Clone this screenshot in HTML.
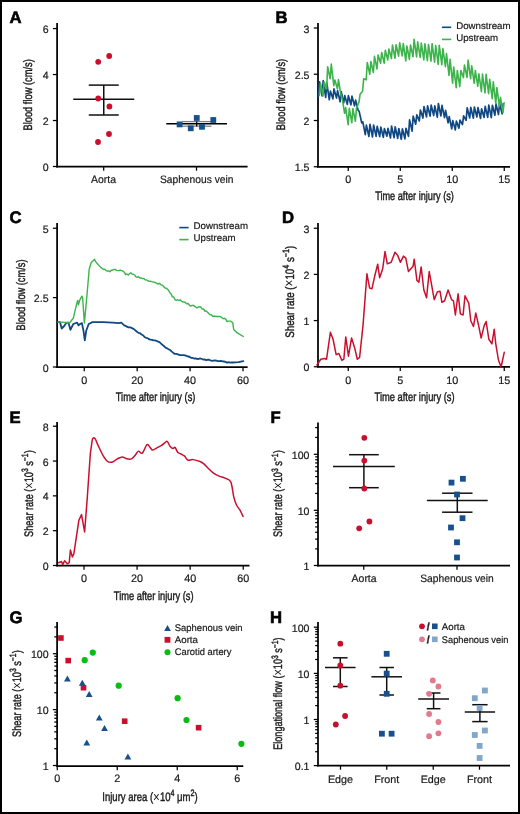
<!DOCTYPE html>
<html><head><meta charset="utf-8"><style>
html,body{margin:0;padding:0;background:#fff;}
body{width:520px;height:814px;overflow:hidden;position:relative;}
svg{position:absolute;left:0;top:0;display:block;will-change:transform;}
text{font-family:"Liberation Sans", sans-serif;text-rendering:geometricPrecision;}

</style></head><body>
<svg width="520" height="814" viewBox="0 0 520 814">
<rect x="0" y="0" width="520" height="814" fill="#fff"/>
<text x="9.5" y="23" font-size="16.7" text-anchor="start" stroke="#000" stroke-width="0.6" font-weight="bold" fill="#000">A</text>
<line x1="57.1" y1="22.9" x2="57.1" y2="167.38" stroke="#000" stroke-width="1.75"/>
<line x1="52.9" y1="166.5" x2="57.1" y2="166.5" stroke="#000" stroke-width="1.25"/>
<text x="48.6" y="171" font-size="10.6" text-anchor="end" stroke="#1a1a1a" stroke-width="0.2" fill="#1a1a1a">0</text>
<line x1="52.9" y1="120.52" x2="57.1" y2="120.52" stroke="#000" stroke-width="1.25"/>
<text x="48.6" y="125.02" font-size="10.6" text-anchor="end" stroke="#1a1a1a" stroke-width="0.2" fill="#1a1a1a">2</text>
<line x1="52.9" y1="74.54" x2="57.1" y2="74.54" stroke="#000" stroke-width="1.25"/>
<text x="48.6" y="79.04" font-size="10.6" text-anchor="end" stroke="#1a1a1a" stroke-width="0.2" fill="#1a1a1a">4</text>
<line x1="52.9" y1="28.56" x2="57.1" y2="28.56" stroke="#000" stroke-width="1.25"/>
<text x="48.6" y="33.06" font-size="10.6" text-anchor="end" stroke="#1a1a1a" stroke-width="0.2" fill="#1a1a1a">6</text>
<line x1="56.23" y1="166.5" x2="247.6" y2="166.5" stroke="#000" stroke-width="1.75"/>
<line x1="103.7" y1="166.5" x2="103.7" y2="170.7" stroke="#000" stroke-width="1.25"/>
<line x1="196.5" y1="166.5" x2="196.5" y2="170.7" stroke="#000" stroke-width="1.25"/>
<text x="103.5" y="183.1" font-size="10.75" text-anchor="middle" stroke="#1a1a1a" stroke-width="0.2" textLength="25" lengthAdjust="spacingAndGlyphs" fill="#1a1a1a">Aorta</text>
<text x="196.7" y="183.1" font-size="10.75" text-anchor="middle" stroke="#1a1a1a" stroke-width="0.2" textLength="73.5" lengthAdjust="spacingAndGlyphs" fill="#1a1a1a">Saphenous vein</text>
<text transform="translate(31.8,94.85) rotate(-90)" x="0" y="0" font-size="12.3" text-anchor="middle" stroke="#1a1a1a" stroke-width="0.42" textLength="71.3" lengthAdjust="spacingAndGlyphs" fill="#1a1a1a">Blood flow (cm/s)</text>
<line x1="73.25" y1="99.3" x2="134.25" y2="99.3" stroke="#111" stroke-width="1.5"/>
<line x1="103.75" y1="85.1" x2="103.75" y2="115" stroke="#111" stroke-width="1.5"/>
<line x1="88.75" y1="85.1" x2="118.75" y2="85.1" stroke="#111" stroke-width="1.5"/>
<line x1="88.75" y1="115" x2="118.75" y2="115" stroke="#111" stroke-width="1.5"/>
<circle cx="98.2" cy="61.8" r="2.9" fill="#c8102e"/>
<circle cx="109.2" cy="56" r="2.9" fill="#c8102e"/>
<circle cx="98.2" cy="98.5" r="2.9" fill="#c8102e"/>
<circle cx="109.4" cy="106.5" r="2.9" fill="#c8102e"/>
<circle cx="109" cy="134" r="2.9" fill="#c8102e"/>
<circle cx="98" cy="142" r="2.9" fill="#c8102e"/>
<line x1="182" y1="121.6" x2="211.5" y2="121.6" stroke="#808080" stroke-width="1.3"/>
<line x1="182" y1="126.2" x2="211.5" y2="126.2" stroke="#808080" stroke-width="1.3"/>
<line x1="166.3" y1="123.8" x2="227" y2="123.8" stroke="#000" stroke-width="1.4"/>
<line x1="196.7" y1="121.6" x2="196.7" y2="126.2" stroke="#000" stroke-width="1.3"/>
<rect x="176.7" y="121.5" width="5.8" height="5.8" fill="#17508c"/>
<rect x="187.85" y="125.4" width="5.8" height="5.8" fill="#17508c"/>
<rect x="193.85" y="115.1" width="5.8" height="5.8" fill="#17508c"/>
<rect x="199.1" y="123.9" width="5.8" height="5.8" fill="#17508c"/>
<rect x="210.4" y="117.1" width="5.8" height="5.8" fill="#17508c"/>
<text x="275.6" y="23" font-size="16.7" text-anchor="start" stroke="#000" stroke-width="0.6" font-weight="bold" fill="#000">B</text>
<line x1="318" y1="22.9" x2="318" y2="167.62" stroke="#000" stroke-width="1.75"/>
<line x1="313.8" y1="166.75" x2="318" y2="166.75" stroke="#000" stroke-width="1.25"/>
<text x="309.5" y="171.25" font-size="10.6" text-anchor="end" stroke="#1a1a1a" stroke-width="0.2" fill="#1a1a1a">1.5</text>
<line x1="313.8" y1="120.5" x2="318" y2="120.5" stroke="#000" stroke-width="1.25"/>
<text x="309.5" y="125" font-size="10.6" text-anchor="end" stroke="#1a1a1a" stroke-width="0.2" fill="#1a1a1a">2</text>
<line x1="313.8" y1="74.25" x2="318" y2="74.25" stroke="#000" stroke-width="1.25"/>
<text x="309.5" y="78.75" font-size="10.6" text-anchor="end" stroke="#1a1a1a" stroke-width="0.2" fill="#1a1a1a">2.5</text>
<line x1="313.8" y1="28" x2="318" y2="28" stroke="#000" stroke-width="1.25"/>
<text x="309.5" y="32.5" font-size="10.6" text-anchor="end" stroke="#1a1a1a" stroke-width="0.2" fill="#1a1a1a">3</text>
<line x1="317.12" y1="166.75" x2="510" y2="166.75" stroke="#000" stroke-width="1.75"/>
<line x1="348.25" y1="166.75" x2="348.25" y2="170.95" stroke="#000" stroke-width="1.25"/>
<text x="348.25" y="182.95" font-size="10.8" text-anchor="middle" stroke="#1a1a1a" stroke-width="0.2" fill="#1a1a1a">0</text>
<line x1="400.25" y1="166.75" x2="400.25" y2="170.95" stroke="#000" stroke-width="1.25"/>
<text x="400.25" y="182.95" font-size="10.8" text-anchor="middle" stroke="#1a1a1a" stroke-width="0.2" fill="#1a1a1a">5</text>
<line x1="452.25" y1="166.75" x2="452.25" y2="170.95" stroke="#000" stroke-width="1.25"/>
<text x="452.25" y="182.95" font-size="10.8" text-anchor="middle" stroke="#1a1a1a" stroke-width="0.2" fill="#1a1a1a">10</text>
<line x1="504.25" y1="166.75" x2="504.25" y2="170.95" stroke="#000" stroke-width="1.25"/>
<text x="504.25" y="182.95" font-size="10.8" text-anchor="middle" stroke="#1a1a1a" stroke-width="0.2" fill="#1a1a1a">15</text>
<text x="414.5" y="200.1" font-size="12.3" text-anchor="middle" stroke="#1a1a1a" stroke-width="0.42" textLength="78.7" lengthAdjust="spacingAndGlyphs" fill="#1a1a1a">Time after injury (s)</text>
<text transform="translate(285.1,94.5) rotate(-90)" x="0" y="0" font-size="12.3" text-anchor="middle" stroke="#1a1a1a" stroke-width="0.42" textLength="71.3" lengthAdjust="spacingAndGlyphs" fill="#1a1a1a">Blood flow (cm/s)</text>
<line x1="441.9" y1="27.3" x2="451.2" y2="27.3" stroke="#0f4883" stroke-width="1.6"/>
<text x="456.2" y="29.35" font-size="9.7" text-anchor="start" stroke="#1a1a1a" stroke-width="0.2" fill="#1a1a1a">Downstream</text>
<line x1="441.9" y1="39.4" x2="451.2" y2="39.4" stroke="#3cb44b" stroke-width="1.6"/>
<text x="456.2" y="40.95" font-size="9.7" text-anchor="start" stroke="#1a1a1a" stroke-width="0.2" fill="#1a1a1a">Upstream</text>
<polyline points="318.5,96.29 319.58,81.88 322.1,95.85 323.18,80.69 325.7,97.36 326.78,82.93 329.3,99.76 330.38,91.04 332.9,98.84 333.98,88.93 336.5,98.05 337.58,90.66 340.1,101.79 341.18,91.68 343.7,102.77 344.78,95.66 347.3,104.38 348.38,95.64 350.9,104.78 351.98,96.12 354.5,105.9 355.58,100.07 358.1,110.19 359.18,111.42 361.7,122.83 362.78,121.83 365.3,134.58 366.38,125.15 368.9,136.51 369.98,124.36 372.5,136.99 373.58,124.98 376.1,136.44 377.18,126.25 379.7,136.58 380.78,127.07 383.3,137.29 384.38,128.55 386.9,136.14 387.98,128.37 390.5,137.96 391.58,126.14 394.1,137.74 395.18,126.78 397.7,138.44 398.78,128.53 401.3,139.18 402.38,128.82 404.9,138.82 405.98,128.26 408.5,136.28 409.58,119.86 412.1,131.14 413.18,116.14 415.7,124.17 416.78,114.81 419.3,120.92 420.38,109.98 422.9,118.05 423.98,106.54 426.5,116.83 427.58,105.87 430.1,116.16 431.18,105.14 433.7,115.51 434.78,105.87 437.3,117.08 438.38,103.54 440.9,115.99 441.98,105.39 444.5,117.7 445.58,110.32 448.1,122.77 449.18,116.52 451.7,128.83 452.78,120.61 455.3,129.89 456.38,120.99 458.9,128.25 459.98,120.06 462.5,124.51 463.58,115.79 466.1,120.34 467.18,107.8 469.7,117.96 470.78,107.4 473.3,118.07 474.38,107.02 476.9,116.96 477.98,107.51 480.5,118.37 481.58,108.76 484.1,117.4 485.18,106.42 487.7,117.39 488.78,105.19 491.3,117.65 492.38,105.3 494.9,115.25 495.98,103.98 498.5,114.53 499.58,103.23 502.1,113.83 503.18,103.8" fill="none" stroke="#0f4883" stroke-width="1.7" stroke-linejoin="round" stroke-linecap="round"/>
<polyline points="319.4,95.13 320.48,83.45 323,95.92 324.08,81.87 326.6,89.03 327.68,66.81 330.2,78.81 331.28,64.17 333.8,85.68 334.88,80.05 337.4,88.83 338.48,79.66 341,95.64 342.08,97.92 344.6,113.26 345.68,107.65 348.2,124.74 349.28,108.34 351.8,122.71 352.88,108.58 355.4,121.29 356.48,108.13 359,102.16 360.08,94.23 362.6,91.22 363.68,78.81 366.2,79.82 367.28,62.52 369.8,74.22 370.88,61.46 373.4,72.57 374.48,56.33 377,68.97 378.08,55.09 380.6,63.29 381.68,52.51 384.2,63.17 385.28,50.29 387.8,59.97 388.88,49.06 391.4,58.41 392.48,45.17 395,58.25 396.08,44.72 398.6,56.12 399.68,42.76 402.2,55.94 403.28,43.44 405.8,60.89 406.88,46 409.4,59.41 410.48,45.02 413,56.71 414.08,39.24 416.6,56.88 417.68,41.84 420.2,57.48 421.28,43.09 423.8,59.94 424.88,43.71 427.4,60.64 428.48,44.47 431,61.25 432.08,43.7 434.6,62.22 435.68,45.46 438.2,64.39 439.28,45.33 441.8,64.68 442.88,48.51 445.4,66.66 446.48,53.48 449,75.38 450.08,59.27 452.6,83.1 453.68,66.96 456.2,87.64 457.28,70.49 459.8,86.57 460.88,70.45 463.4,77.59 464.48,65.08 467,77.43 468.08,60.06 470.6,78.7 471.68,65.71 474.2,83.27 475.28,70.47 477.8,86.29 478.88,73.92 481.4,91.72 482.48,74.12 485,92.89 486.08,74.18 488.6,93.68 489.68,79.21 492.2,98.74 493.28,81.68 495.8,103.6 496.88,87.49 499.4,106.43 500.48,97.42 503,112.76 504.08,102.74" fill="none" stroke="#3cb44b" stroke-width="1.6" stroke-linejoin="round" stroke-linecap="round"/>
<text x="9.4" y="222.9" font-size="16.7" text-anchor="start" stroke="#000" stroke-width="0.6" font-weight="bold" fill="#000">C</text>
<line x1="57.1" y1="223" x2="57.1" y2="367.88" stroke="#000" stroke-width="1.75"/>
<line x1="52.9" y1="367" x2="57.1" y2="367" stroke="#000" stroke-width="1.25"/>
<text x="48.6" y="371.5" font-size="10.6" text-anchor="end" stroke="#1a1a1a" stroke-width="0.2" fill="#1a1a1a">0</text>
<line x1="52.9" y1="297.62" x2="57.1" y2="297.62" stroke="#000" stroke-width="1.25"/>
<text x="48.6" y="302.12" font-size="10.6" text-anchor="end" stroke="#1a1a1a" stroke-width="0.2" fill="#1a1a1a">2.5</text>
<line x1="52.9" y1="228.25" x2="57.1" y2="228.25" stroke="#000" stroke-width="1.25"/>
<text x="48.6" y="232.75" font-size="10.6" text-anchor="end" stroke="#1a1a1a" stroke-width="0.2" fill="#1a1a1a">5</text>
<line x1="56.23" y1="367" x2="247.6" y2="367" stroke="#000" stroke-width="1.75"/>
<line x1="84.25" y1="367" x2="84.25" y2="371.2" stroke="#000" stroke-width="1.25"/>
<text x="84.25" y="384" font-size="10.8" text-anchor="middle" stroke="#1a1a1a" stroke-width="0.2" fill="#1a1a1a">0</text>
<line x1="137.17" y1="367" x2="137.17" y2="371.2" stroke="#000" stroke-width="1.25"/>
<text x="137.17" y="384" font-size="10.8" text-anchor="middle" stroke="#1a1a1a" stroke-width="0.2" fill="#1a1a1a">20</text>
<line x1="190.08" y1="367" x2="190.08" y2="371.2" stroke="#000" stroke-width="1.25"/>
<text x="190.08" y="384" font-size="10.8" text-anchor="middle" stroke="#1a1a1a" stroke-width="0.2" fill="#1a1a1a">40</text>
<line x1="243" y1="367" x2="243" y2="371.2" stroke="#000" stroke-width="1.25"/>
<text x="243" y="384" font-size="10.8" text-anchor="middle" stroke="#1a1a1a" stroke-width="0.2" fill="#1a1a1a">60</text>
<text x="155.6" y="400.8" font-size="12.3" text-anchor="middle" stroke="#1a1a1a" stroke-width="0.42" textLength="79.6" lengthAdjust="spacingAndGlyphs" fill="#1a1a1a">Time after injury (s)</text>
<text transform="translate(25.3,295) rotate(-90)" x="0" y="0" font-size="12.3" text-anchor="middle" stroke="#1a1a1a" stroke-width="0.42" textLength="71" lengthAdjust="spacingAndGlyphs" fill="#1a1a1a">Blood flow (cm/s)</text>
<line x1="179.3" y1="227.6" x2="188.6" y2="227.6" stroke="#0f4883" stroke-width="1.6"/>
<text x="193.6" y="229.35" font-size="9.7" text-anchor="start" stroke="#1a1a1a" stroke-width="0.2" fill="#1a1a1a">Downstream</text>
<line x1="179.3" y1="239.6" x2="188.6" y2="239.6" stroke="#3cb44b" stroke-width="1.6"/>
<text x="193.6" y="240.95" font-size="9.7" text-anchor="start" stroke="#1a1a1a" stroke-width="0.2" fill="#1a1a1a">Upstream</text>
<polyline points="57.9,322.1 60,322.1 61.7,328.5 64.2,326 66.5,322.7 68.5,322.7 70.4,329.8 73.3,324 77.1,322.7 78.5,325.4 80,324 81.9,323.1 83.5,330.8 84.8,340.4 86.2,330.8 88.7,324 92.5,322.1 103.1,322.1 112.7,322.7 118.5,323.1 121.3,322.7 124.2,325.4 125,325.67 126.5,326.36 128,327.28 129.5,327.25 131,327.68 132.5,328.42 134,329.18 135.5,330.59 137,331.72 138.5,332.86 140,333.23 141.5,334.42 143,335.24 144.5,336.9 146,337.8 147.5,338.12 149,339.25 150.5,339.6 152,339.88 153.5,340.39 155,340.46 156.5,340.79 158,341.71 159.5,342.18 161,343.57 162.5,344.93 164,346.05 165.5,347.71 167,348.28 168.5,349.23 170,349.93 171.5,351.39 173,352.6 174.5,353.76 176,353.92 177.5,354.11 179,354.96 180.5,355.12 182,355.13 183.5,355.17 185,355.35 186.5,355.87 188,356.51 189.5,356.76 191,357.75 192.5,357.79 194,358.56 195.5,358.31 197,358.95 198.5,358.98 200,358.35 201.5,358.75 203,359.58 204.5,359.39 206,360.06 207.5,359.77 209,359.71 210.5,360.45 212,360.82 213.5,360.59 215,360.43 216.5,360.65 218,361.22 219.5,361.1 221,360.85 222.5,361.3 224,361.5 225.5,361.79 227,362.77 228.5,362.21 230,362.55 231.5,362.45 232.7,362.5 238.5,362.1 243.3,361.2" fill="none" stroke="#0f4883" stroke-width="1.8" stroke-linejoin="round" stroke-linecap="round"/>
<polyline points="57.9,322.1 61.7,322.1 65,322.5 69.4,323 71,321 73.3,318.3 76.2,305.8 77.7,300.4 78.5,304.8 79.6,300.4 81.9,296.2 82.6,297.5 84.4,323.1 86.7,298.1 89.2,269.2 91.2,262.5 92.5,261.2 93.5,260.6 94.4,259.2 95.8,261.9 97,263.28 98.3,264.76 99.6,266.14 100.9,267.66 102.2,268.34 103.5,269.49 104.8,269.13 106.1,270.69 107.4,271.01 108.7,271.03 110,271.73 111.3,270.1 112.6,270.19 113.9,269.41 115.2,269.4 116.5,270.4 117.8,270.67 119.1,270.54 120.4,270.2 121.7,270.66 123,271.21 124.3,272.19 125.6,274.59 126.9,274.07 128.2,275.07 129.5,273.63 130.8,272.73 132.1,274.15 133.4,274.23 134.7,275.01 136,276.8 137.3,277.26 138.6,276.78 139.9,278.06 141.2,277.86 142.5,278.63 143.8,278.44 145.1,279.88 146.4,279.85 147.7,280.72 149,281.34 150.3,281.11 151.6,281.68 152.9,281.87 154.2,282.29 155.5,282.55 156.8,283.29 158.1,284.03 159.4,283.3 160.7,284.54 162,285.03 163.3,285.98 164.6,287.73 165.9,288.19 167.2,288.91 168.5,290.3 169.8,292.79 171.1,293.97 172.4,296.9 173.7,296.98 175,299.57 176.3,300.34 177.6,299.73 178.9,300.51 180.2,299.8 181.5,301.42 182.8,301.78 184.1,302.04 185.4,302.45 186.7,303.9 188,303.53 189.3,305.13 190.6,305.98 191.9,305.59 193.2,305.22 194.5,306.18 195.8,307.1 197.1,307.84 198.4,306.86 199.7,306.75 201,307.25 202.3,309.14 203.6,308.87 204.9,311.2 206.2,310.88 207.5,312.21 208.8,313.58 210.1,314.88 211.4,314.68 212.7,316.23 214,316.19 215.3,316.14 216.6,316.46 217.9,316.47 219.2,316.43 220.5,316.64 221.8,317.56 223.1,318.68 224.4,318.31 225.7,319.17 227,321.55 228.3,321.11 229.6,321.17 230.9,321.16 232.2,322.34 232.7,322.7 233.7,329.4 236.5,332.3 239.4,334.2 243.3,336.5" fill="none" stroke="#3cb44b" stroke-width="1.4" stroke-linejoin="round" stroke-linecap="round"/>
<text x="281.9" y="222.9" font-size="16.7" text-anchor="start" stroke="#000" stroke-width="0.6" font-weight="bold" fill="#000">D</text>
<line x1="318" y1="223" x2="318" y2="367.62" stroke="#000" stroke-width="1.75"/>
<line x1="313.8" y1="366.75" x2="318" y2="366.75" stroke="#000" stroke-width="1.25"/>
<text x="309.5" y="371.25" font-size="10.6" text-anchor="end" stroke="#1a1a1a" stroke-width="0.2" fill="#1a1a1a">0</text>
<line x1="313.8" y1="320.58" x2="318" y2="320.58" stroke="#000" stroke-width="1.25"/>
<text x="309.5" y="325.08" font-size="10.6" text-anchor="end" stroke="#1a1a1a" stroke-width="0.2" fill="#1a1a1a">1</text>
<line x1="313.8" y1="274.41" x2="318" y2="274.41" stroke="#000" stroke-width="1.25"/>
<text x="309.5" y="278.91" font-size="10.6" text-anchor="end" stroke="#1a1a1a" stroke-width="0.2" fill="#1a1a1a">2</text>
<line x1="313.8" y1="228.24" x2="318" y2="228.24" stroke="#000" stroke-width="1.25"/>
<text x="309.5" y="232.74" font-size="10.6" text-anchor="end" stroke="#1a1a1a" stroke-width="0.2" fill="#1a1a1a">3</text>
<line x1="317.12" y1="366.75" x2="510" y2="366.75" stroke="#000" stroke-width="1.75"/>
<line x1="348.25" y1="366.75" x2="348.25" y2="370.95" stroke="#000" stroke-width="1.25"/>
<text x="348.25" y="383.7" font-size="10.8" text-anchor="middle" stroke="#1a1a1a" stroke-width="0.2" fill="#1a1a1a">0</text>
<line x1="400.25" y1="366.75" x2="400.25" y2="370.95" stroke="#000" stroke-width="1.25"/>
<text x="400.25" y="383.7" font-size="10.8" text-anchor="middle" stroke="#1a1a1a" stroke-width="0.2" fill="#1a1a1a">5</text>
<line x1="452.25" y1="366.75" x2="452.25" y2="370.95" stroke="#000" stroke-width="1.25"/>
<text x="452.25" y="383.7" font-size="10.8" text-anchor="middle" stroke="#1a1a1a" stroke-width="0.2" fill="#1a1a1a">10</text>
<line x1="504.25" y1="366.75" x2="504.25" y2="370.95" stroke="#000" stroke-width="1.25"/>
<text x="504.25" y="383.7" font-size="10.8" text-anchor="middle" stroke="#1a1a1a" stroke-width="0.2" fill="#1a1a1a">15</text>
<text x="414.6" y="400.8" font-size="12.3" text-anchor="middle" stroke="#1a1a1a" stroke-width="0.42" textLength="80" lengthAdjust="spacingAndGlyphs" fill="#1a1a1a">Time after injury (s)</text>
<text transform="translate(293.5,291.7) rotate(-90)" x="0" y="0" font-size="12.3" text-anchor="middle" stroke="#1a1a1a" stroke-width="0.42" textLength="92" lengthAdjust="spacingAndGlyphs" fill="#1a1a1a">Shear rate (<tspan font-size="15" stroke-width="0" dy="0.9">×</tspan><tspan dy="-0.9">10</tspan><tspan font-size="9.2" dy="-4.6">4</tspan><tspan dy="4.6"> s</tspan><tspan font-size="9.2" dy="-4.6">−1</tspan><tspan dy="4.6">)</tspan></text>
<polyline points="316.92,365 320.77,359.23 324.62,358.46 326.54,359.23 330.38,332.31 333.08,339.23 336.15,354.62 338.85,353.46 341.92,360.38 343.85,359.23 345.77,336.92 348.46,356.15 351.54,338.08 354.62,347.69 357.31,359.23 359.62,357.31 363.08,324.62 366.92,273.85 369.62,288.08 371.92,288.85 374.62,276.54 377.69,264.23 379.62,277.69 382.69,268.85 385,251.54 387.31,263.85 391.15,262.31 395,252.31 397.69,255.38 400.38,262.31 403.46,256.15 405.77,258.08 408.46,271.54 413.08,266.15 414.23,259.23 416.92,280.38 418.85,282.31 421.15,266.92 423.85,290 426.54,297.69 429.23,271.54 434.23,299.62 437.31,291.92 440,291.15 441.92,302.31 444.62,300.77 448.08,290 451.54,299.62 453.46,300.77 455.38,315 458.08,293.85 460.38,313.85 463.08,315 465,295.77 468.85,303.46 470.77,320.77 473.46,326.54 475.77,313.08 478.46,324.62 481.15,338.08 484.23,325.38 486.15,321.54 488.85,339.23 491.92,343.85 494.23,329.23 495.77,343.85 498.46,360 500.77,366.15 501.54,365 504.23,352.31" fill="none" stroke="#c8102e" stroke-width="1.5" stroke-linejoin="round" stroke-linecap="round"/>
<text x="9.4" y="422.9" font-size="16.7" text-anchor="start" stroke="#000" stroke-width="0.6" font-weight="bold" fill="#000">E</text>
<line x1="57.1" y1="422" x2="57.1" y2="566.38" stroke="#000" stroke-width="1.75"/>
<line x1="52.9" y1="565.5" x2="57.1" y2="565.5" stroke="#000" stroke-width="1.25"/>
<text x="48.6" y="570" font-size="10.6" text-anchor="end" stroke="#1a1a1a" stroke-width="0.2" fill="#1a1a1a">0</text>
<line x1="52.9" y1="530.68" x2="57.1" y2="530.68" stroke="#000" stroke-width="1.25"/>
<text x="48.6" y="535.18" font-size="10.6" text-anchor="end" stroke="#1a1a1a" stroke-width="0.2" fill="#1a1a1a">2</text>
<line x1="52.9" y1="495.86" x2="57.1" y2="495.86" stroke="#000" stroke-width="1.25"/>
<text x="48.6" y="500.36" font-size="10.6" text-anchor="end" stroke="#1a1a1a" stroke-width="0.2" fill="#1a1a1a">4</text>
<line x1="52.9" y1="461.04" x2="57.1" y2="461.04" stroke="#000" stroke-width="1.25"/>
<text x="48.6" y="465.54" font-size="10.6" text-anchor="end" stroke="#1a1a1a" stroke-width="0.2" fill="#1a1a1a">6</text>
<line x1="52.9" y1="426.22" x2="57.1" y2="426.22" stroke="#000" stroke-width="1.25"/>
<text x="48.6" y="430.72" font-size="10.6" text-anchor="end" stroke="#1a1a1a" stroke-width="0.2" fill="#1a1a1a">8</text>
<line x1="56.23" y1="565.5" x2="249.5" y2="565.5" stroke="#000" stroke-width="1.75"/>
<line x1="84" y1="565.5" x2="84" y2="569.7" stroke="#000" stroke-width="1.25"/>
<text x="84" y="582.1" font-size="10.8" text-anchor="middle" stroke="#1a1a1a" stroke-width="0.2" fill="#1a1a1a">0</text>
<line x1="137.08" y1="565.5" x2="137.08" y2="569.7" stroke="#000" stroke-width="1.25"/>
<text x="137.08" y="582.1" font-size="10.8" text-anchor="middle" stroke="#1a1a1a" stroke-width="0.2" fill="#1a1a1a">20</text>
<line x1="190.16" y1="565.5" x2="190.16" y2="569.7" stroke="#000" stroke-width="1.25"/>
<text x="190.16" y="582.1" font-size="10.8" text-anchor="middle" stroke="#1a1a1a" stroke-width="0.2" fill="#1a1a1a">40</text>
<line x1="243.24" y1="565.5" x2="243.24" y2="569.7" stroke="#000" stroke-width="1.25"/>
<text x="243.24" y="582.1" font-size="10.8" text-anchor="middle" stroke="#1a1a1a" stroke-width="0.2" fill="#1a1a1a">60</text>
<text x="153.7" y="600" font-size="12.3" text-anchor="middle" stroke="#1a1a1a" stroke-width="0.42" textLength="79.7" lengthAdjust="spacingAndGlyphs" fill="#1a1a1a">Time after injury (s)</text>
<text transform="translate(33,493.6) rotate(-90)" x="0" y="0" font-size="12.3" text-anchor="middle" stroke="#1a1a1a" stroke-width="0.42" textLength="86.6" lengthAdjust="spacingAndGlyphs" fill="#1a1a1a">Shear rate (<tspan font-size="15" stroke-width="0" dy="0.9">×</tspan><tspan dy="-0.9">10</tspan><tspan font-size="9.2" dy="-4.6">3</tspan><tspan dy="4.6"> s</tspan><tspan font-size="9.2" dy="-4.6">−1</tspan><tspan dy="4.6">)</tspan></text>
<path d="M58.46,562.69 L61.54,561.54 L62.69,564.62 L64.62,560.77 L67.31,563.85 L69.23,562.69 L70.38,550 L72.31,556.92 L73.85,553.85 L78.85,520.38 L81.54,514.62 L84.62,531.92 L87.31,497.31 L90.38,453.08 L92.31,439.62 C93.08,437.18 94.04,437.5 95,438.46 C95.96,439.42 96.6,442.31 98.08,445.38 C99.55,448.46 102.24,454.23 103.85,456.92 C105.45,459.62 106.22,460.71 107.69,461.54 C109.17,462.37 111.09,462.37 112.69,461.92 C114.29,461.47 115.71,459.68 117.31,458.85 C118.91,458.01 120.71,456.92 122.31,456.92 C123.91,456.92 125.38,458.53 126.92,458.85 C128.46,459.17 130.13,459.49 131.54,458.85 C132.95,458.21 134.23,456.28 135.38,455 C136.54,453.72 137.31,451.47 138.46,451.15 C139.62,450.83 140.9,454.17 142.31,453.08 C143.72,451.99 145.64,445.58 146.92,444.62 C148.21,443.65 149.04,446.41 150,447.31 C150.96,448.21 151.41,450 152.69,450 C153.97,450 156.22,448.08 157.69,447.31 C159.17,446.54 160.26,446.22 161.54,445.38 C162.82,444.55 164.42,442.95 165.38,442.31 C166.35,441.67 166.54,440.9 167.31,441.54 C168.08,442.18 169.04,445 170,446.15 C170.96,447.31 172.24,448.27 173.08,448.46 C173.91,448.65 174.23,446.67 175,447.31 C175.77,447.95 176.73,451.22 177.69,452.31 C178.65,453.4 179.62,453.21 180.77,453.85 C181.92,454.49 183.46,455.13 184.62,456.15 C185.77,457.18 186.28,459.42 187.69,460 C189.1,460.58 191.03,459.36 193.08,459.62 C195.13,459.87 198.21,460.83 200,461.54 C201.79,462.24 202.44,462.69 203.85,463.85 C205.26,465 206.86,466.92 208.46,468.46 C210.06,470 211.67,471.79 213.46,473.08 C215.26,474.36 217.31,475.32 219.23,476.15 C221.15,476.99 223.08,477.12 225,478.08 C226.92,479.04 229.29,478.72 230.77,481.92 C232.24,485.13 232.88,493.46 233.85,497.31 C234.81,501.15 235.45,502.76 236.54,505 C237.63,507.24 239.29,508.85 240.38,510.77 C241.47,512.69 242.63,515.58 243.08,516.54" fill="none" stroke="#c8102e" stroke-width="1.5" stroke-linejoin="round" stroke-linecap="round"/>
<text x="270.6" y="422.9" font-size="16.7" text-anchor="start" stroke="#000" stroke-width="0.6" font-weight="bold" fill="#000">F</text>
<line x1="318" y1="422.5" x2="318" y2="566.38" stroke="#000" stroke-width="1.75"/>
<line x1="313.8" y1="565.5" x2="318" y2="565.5" stroke="#000" stroke-width="1.25"/>
<text x="309.5" y="570" font-size="10.6" text-anchor="end" stroke="#1a1a1a" stroke-width="0.2" fill="#1a1a1a">1</text>
<line x1="315.2" y1="548.88" x2="318" y2="548.88" stroke="#000" stroke-width="1.25"/>
<line x1="315.2" y1="539.16" x2="318" y2="539.16" stroke="#000" stroke-width="1.25"/>
<line x1="315.2" y1="532.27" x2="318" y2="532.27" stroke="#000" stroke-width="1.25"/>
<line x1="315.2" y1="526.92" x2="318" y2="526.92" stroke="#000" stroke-width="1.25"/>
<line x1="315.2" y1="522.55" x2="318" y2="522.55" stroke="#000" stroke-width="1.25"/>
<line x1="315.2" y1="518.85" x2="318" y2="518.85" stroke="#000" stroke-width="1.25"/>
<line x1="315.2" y1="515.65" x2="318" y2="515.65" stroke="#000" stroke-width="1.25"/>
<line x1="315.2" y1="512.83" x2="318" y2="512.83" stroke="#000" stroke-width="1.25"/>
<line x1="313.8" y1="510.3" x2="318" y2="510.3" stroke="#000" stroke-width="1.25"/>
<text x="309.5" y="514.8" font-size="10.6" text-anchor="end" stroke="#1a1a1a" stroke-width="0.2" fill="#1a1a1a">10</text>
<line x1="315.2" y1="493.44" x2="318" y2="493.44" stroke="#000" stroke-width="1.25"/>
<line x1="315.2" y1="483.58" x2="318" y2="483.58" stroke="#000" stroke-width="1.25"/>
<line x1="315.2" y1="476.58" x2="318" y2="476.58" stroke="#000" stroke-width="1.25"/>
<line x1="315.2" y1="471.16" x2="318" y2="471.16" stroke="#000" stroke-width="1.25"/>
<line x1="315.2" y1="466.72" x2="318" y2="466.72" stroke="#000" stroke-width="1.25"/>
<line x1="315.2" y1="462.97" x2="318" y2="462.97" stroke="#000" stroke-width="1.25"/>
<line x1="315.2" y1="459.73" x2="318" y2="459.73" stroke="#000" stroke-width="1.25"/>
<line x1="315.2" y1="456.86" x2="318" y2="456.86" stroke="#000" stroke-width="1.25"/>
<line x1="313.8" y1="454.3" x2="318" y2="454.3" stroke="#000" stroke-width="1.25"/>
<text x="309.5" y="458.8" font-size="10.6" text-anchor="end" stroke="#1a1a1a" stroke-width="0.2" fill="#1a1a1a">100</text>
<line x1="315.2" y1="437.44" x2="318" y2="437.44" stroke="#000" stroke-width="1.25"/>
<line x1="315.2" y1="427.58" x2="318" y2="427.58" stroke="#000" stroke-width="1.25"/>
<line x1="317.12" y1="565.5" x2="510" y2="565.5" stroke="#000" stroke-width="1.75"/>
<line x1="363.75" y1="565.5" x2="363.75" y2="569.7" stroke="#000" stroke-width="1.25"/>
<line x1="457" y1="565.5" x2="457" y2="569.7" stroke="#000" stroke-width="1.25"/>
<text x="364.1" y="582.2" font-size="10.75" text-anchor="middle" stroke="#1a1a1a" stroke-width="0.2" textLength="25" lengthAdjust="spacingAndGlyphs" fill="#1a1a1a">Aorta</text>
<text x="457" y="582.2" font-size="10.75" text-anchor="middle" stroke="#1a1a1a" stroke-width="0.2" textLength="73.5" lengthAdjust="spacingAndGlyphs" fill="#1a1a1a">Saphenous vein</text>
<text transform="translate(282.2,493.6) rotate(-90)" x="0" y="0" font-size="12.3" text-anchor="middle" stroke="#1a1a1a" stroke-width="0.42" textLength="86.6" lengthAdjust="spacingAndGlyphs" fill="#1a1a1a">Shear rate (<tspan font-size="15" stroke-width="0" dy="0.9">×</tspan><tspan dy="-0.9">10</tspan><tspan font-size="9.2" dy="-4.6">3</tspan><tspan dy="4.6"> s</tspan><tspan font-size="9.2" dy="-4.6">−1</tspan><tspan dy="4.6">)</tspan></text>
<line x1="333" y1="466.4" x2="394.8" y2="466.4" stroke="#111" stroke-width="1.5"/>
<line x1="363.9" y1="454.7" x2="363.9" y2="487.7" stroke="#111" stroke-width="1.5"/>
<line x1="349.05" y1="454.7" x2="378.75" y2="454.7" stroke="#111" stroke-width="1.5"/>
<line x1="349.05" y1="487.7" x2="378.75" y2="487.7" stroke="#111" stroke-width="1.5"/>
<circle cx="364.3" cy="437.8" r="2.9" fill="#c8102e"/>
<circle cx="364.3" cy="460.6" r="2.9" fill="#c8102e"/>
<circle cx="364.3" cy="488.5" r="2.9" fill="#c8102e"/>
<circle cx="359.2" cy="528.3" r="2.9" fill="#c8102e"/>
<circle cx="369.4" cy="521.5" r="2.9" fill="#c8102e"/>
<line x1="426.9" y1="500.4" x2="487.7" y2="500.4" stroke="#111" stroke-width="1.5"/>
<line x1="457.3" y1="493.2" x2="457.3" y2="512.2" stroke="#111" stroke-width="1.5"/>
<line x1="442.1" y1="493.2" x2="472.5" y2="493.2" stroke="#111" stroke-width="1.5"/>
<line x1="442.1" y1="512.2" x2="472.5" y2="512.2" stroke="#111" stroke-width="1.5"/>
<rect x="448.6" y="479.7" width="5.8" height="5.8" fill="#17508c"/>
<rect x="460" y="475.9" width="5.8" height="5.8" fill="#17508c"/>
<rect x="454.1" y="491.6" width="5.8" height="5.8" fill="#17508c"/>
<rect x="459.6" y="515.3" width="5.8" height="5.8" fill="#17508c"/>
<rect x="448.1" y="524.6" width="5.8" height="5.8" fill="#17508c"/>
<rect x="454.1" y="539.4" width="5.8" height="5.8" fill="#17508c"/>
<rect x="454.1" y="554.6" width="5.8" height="5.8" fill="#17508c"/>
<text x="9.4" y="622.9" font-size="16.7" text-anchor="start" stroke="#000" stroke-width="0.6" font-weight="bold" fill="#000">G</text>
<line x1="57.1" y1="622" x2="57.1" y2="766.38" stroke="#000" stroke-width="1.75"/>
<line x1="52.9" y1="765.5" x2="57.1" y2="765.5" stroke="#000" stroke-width="1.25"/>
<text x="48.6" y="770" font-size="10.6" text-anchor="end" stroke="#1a1a1a" stroke-width="0.2" fill="#1a1a1a">1</text>
<line x1="54.3" y1="748.67" x2="57.1" y2="748.67" stroke="#000" stroke-width="1.25"/>
<line x1="54.3" y1="738.83" x2="57.1" y2="738.83" stroke="#000" stroke-width="1.25"/>
<line x1="54.3" y1="731.84" x2="57.1" y2="731.84" stroke="#000" stroke-width="1.25"/>
<line x1="54.3" y1="726.43" x2="57.1" y2="726.43" stroke="#000" stroke-width="1.25"/>
<line x1="54.3" y1="722" x2="57.1" y2="722" stroke="#000" stroke-width="1.25"/>
<line x1="54.3" y1="718.26" x2="57.1" y2="718.26" stroke="#000" stroke-width="1.25"/>
<line x1="54.3" y1="715.02" x2="57.1" y2="715.02" stroke="#000" stroke-width="1.25"/>
<line x1="54.3" y1="712.16" x2="57.1" y2="712.16" stroke="#000" stroke-width="1.25"/>
<line x1="52.9" y1="709.6" x2="57.1" y2="709.6" stroke="#000" stroke-width="1.25"/>
<text x="48.6" y="714.1" font-size="10.6" text-anchor="end" stroke="#1a1a1a" stroke-width="0.2" fill="#1a1a1a">10</text>
<line x1="54.3" y1="692.77" x2="57.1" y2="692.77" stroke="#000" stroke-width="1.25"/>
<line x1="54.3" y1="682.93" x2="57.1" y2="682.93" stroke="#000" stroke-width="1.25"/>
<line x1="54.3" y1="675.94" x2="57.1" y2="675.94" stroke="#000" stroke-width="1.25"/>
<line x1="54.3" y1="670.53" x2="57.1" y2="670.53" stroke="#000" stroke-width="1.25"/>
<line x1="54.3" y1="666.1" x2="57.1" y2="666.1" stroke="#000" stroke-width="1.25"/>
<line x1="54.3" y1="662.36" x2="57.1" y2="662.36" stroke="#000" stroke-width="1.25"/>
<line x1="54.3" y1="659.12" x2="57.1" y2="659.12" stroke="#000" stroke-width="1.25"/>
<line x1="54.3" y1="656.26" x2="57.1" y2="656.26" stroke="#000" stroke-width="1.25"/>
<line x1="52.9" y1="653.7" x2="57.1" y2="653.7" stroke="#000" stroke-width="1.25"/>
<text x="48.6" y="658.2" font-size="10.6" text-anchor="end" stroke="#1a1a1a" stroke-width="0.2" fill="#1a1a1a">100</text>
<line x1="54.3" y1="636.87" x2="57.1" y2="636.87" stroke="#000" stroke-width="1.25"/>
<line x1="54.3" y1="627.03" x2="57.1" y2="627.03" stroke="#000" stroke-width="1.25"/>
<line x1="56.23" y1="766" x2="243.3" y2="766" stroke="#000" stroke-width="1.75"/>
<line x1="57.25" y1="766" x2="57.25" y2="770.2" stroke="#000" stroke-width="1.25"/>
<text x="57.25" y="782.1" font-size="10.8" text-anchor="middle" stroke="#1a1a1a" stroke-width="0.2" fill="#1a1a1a">0</text>
<line x1="117.25" y1="766" x2="117.25" y2="770.2" stroke="#000" stroke-width="1.25"/>
<text x="117.25" y="782.1" font-size="10.8" text-anchor="middle" stroke="#1a1a1a" stroke-width="0.2" fill="#1a1a1a">2</text>
<line x1="177.25" y1="766" x2="177.25" y2="770.2" stroke="#000" stroke-width="1.25"/>
<text x="177.25" y="782.1" font-size="10.8" text-anchor="middle" stroke="#1a1a1a" stroke-width="0.2" fill="#1a1a1a">4</text>
<line x1="237.25" y1="766" x2="237.25" y2="770.2" stroke="#000" stroke-width="1.25"/>
<text x="237.25" y="782.1" font-size="10.8" text-anchor="middle" stroke="#1a1a1a" stroke-width="0.2" fill="#1a1a1a">6</text>
<text x="150" y="800.8" font-size="12.3" text-anchor="middle" stroke="#1a1a1a" stroke-width="0.42" textLength="95.4" lengthAdjust="spacingAndGlyphs" fill="#1a1a1a">Injury area (<tspan font-size="15" stroke-width="0" dy="0.9">×</tspan><tspan dy="-0.9">10</tspan><tspan font-size="9.2" dy="-4.6">4</tspan><tspan dy="4.6"> μm</tspan><tspan font-size="9.2" dy="-4.6">2</tspan><tspan dy="4.6">)</tspan></text>
<text transform="translate(21,693.6) rotate(-90)" x="0" y="0" font-size="12.3" text-anchor="middle" stroke="#1a1a1a" stroke-width="0.42" textLength="86.6" lengthAdjust="spacingAndGlyphs" fill="#1a1a1a">Shear rate (<tspan font-size="15" stroke-width="0" dy="0.9">×</tspan><tspan dy="-0.9">10</tspan><tspan font-size="9.2" dy="-4.6">3</tspan><tspan dy="4.6"> s</tspan><tspan font-size="9.2" dy="-4.6">−1</tspan><tspan dy="4.6">)</tspan></text>
<rect x="58.1" y="635.2" width="5.6" height="5.6" fill="#c8102e"/>
<rect x="65.4" y="657.8" width="5.6" height="5.6" fill="#c8102e"/>
<rect x="80.7" y="684.9" width="5.6" height="5.6" fill="#c8102e"/>
<rect x="121.9" y="718.4" width="5.6" height="5.6" fill="#c8102e"/>
<rect x="195.8" y="724.9" width="5.6" height="5.6" fill="#c8102e"/>
<polygon points="67.4,675.61 70.8,681.59 64,681.59" fill="#17508c"/>
<polygon points="82.3,679.71 85.7,685.69 78.9,685.69" fill="#17508c"/>
<polygon points="89.2,691.01 92.6,696.99 85.8,696.99" fill="#17508c"/>
<polygon points="99.3,714.41 102.7,720.39 95.9,720.39" fill="#17508c"/>
<polygon points="104.5,724.91 107.9,730.89 101.1,730.89" fill="#17508c"/>
<polygon points="86.8,739.41 90.2,745.39 83.4,745.39" fill="#17508c"/>
<polygon points="127.9,753.61 131.3,759.59 124.5,759.59" fill="#17508c"/>
<circle cx="92.8" cy="652.6" r="3.1" fill="#06bd12"/>
<circle cx="84.7" cy="660.2" r="3.1" fill="#06bd12"/>
<circle cx="118.7" cy="685.7" r="3.1" fill="#06bd12"/>
<circle cx="177.6" cy="698.2" r="3.1" fill="#06bd12"/>
<circle cx="186.5" cy="720" r="3.1" fill="#06bd12"/>
<circle cx="241.4" cy="743.8" r="3.1" fill="#06bd12"/>
<polygon points="167.5,625.11 170.9,631.09 164.1,631.09" fill="#17508c"/>
<rect x="164.6" y="636.9" width="5.8" height="5.8" fill="#c8102e"/>
<circle cx="167.5" cy="652.2" r="3" fill="#06bd12"/>
<text x="174.8" y="630.6" font-size="9.7" text-anchor="start" stroke="#1a1a1a" stroke-width="0.2" textLength="67.8" lengthAdjust="spacingAndGlyphs" fill="#1a1a1a">Saphenous vein</text>
<text x="174.8" y="643.1" font-size="9.7" text-anchor="start" stroke="#1a1a1a" stroke-width="0.2" fill="#1a1a1a">Aorta</text>
<text x="174.8" y="654.9" font-size="9.7" text-anchor="start" stroke="#1a1a1a" stroke-width="0.2" textLength="56.6" lengthAdjust="spacingAndGlyphs" fill="#1a1a1a">Carotid artery</text>
<text x="269.9" y="622.9" font-size="16.7" text-anchor="start" stroke="#000" stroke-width="0.6" font-weight="bold" fill="#000">H</text>
<line x1="318" y1="622" x2="318" y2="766.38" stroke="#000" stroke-width="1.75"/>
<line x1="313.8" y1="765.6" x2="318" y2="765.6" stroke="#000" stroke-width="1.25"/>
<text x="309.5" y="770.1" font-size="10.6" text-anchor="end" stroke="#1a1a1a" stroke-width="0.2" fill="#1a1a1a">0.1</text>
<line x1="315.2" y1="751.72" x2="318" y2="751.72" stroke="#000" stroke-width="1.25"/>
<line x1="315.2" y1="743.6" x2="318" y2="743.6" stroke="#000" stroke-width="1.25"/>
<line x1="315.2" y1="737.85" x2="318" y2="737.85" stroke="#000" stroke-width="1.25"/>
<line x1="315.2" y1="733.38" x2="318" y2="733.38" stroke="#000" stroke-width="1.25"/>
<line x1="315.2" y1="729.73" x2="318" y2="729.73" stroke="#000" stroke-width="1.25"/>
<line x1="315.2" y1="726.64" x2="318" y2="726.64" stroke="#000" stroke-width="1.25"/>
<line x1="315.2" y1="723.97" x2="318" y2="723.97" stroke="#000" stroke-width="1.25"/>
<line x1="315.2" y1="721.61" x2="318" y2="721.61" stroke="#000" stroke-width="1.25"/>
<line x1="313.8" y1="719.5" x2="318" y2="719.5" stroke="#000" stroke-width="1.25"/>
<text x="309.5" y="724" font-size="10.6" text-anchor="end" stroke="#1a1a1a" stroke-width="0.2" fill="#1a1a1a">1</text>
<line x1="315.2" y1="705.62" x2="318" y2="705.62" stroke="#000" stroke-width="1.25"/>
<line x1="315.2" y1="697.5" x2="318" y2="697.5" stroke="#000" stroke-width="1.25"/>
<line x1="315.2" y1="691.75" x2="318" y2="691.75" stroke="#000" stroke-width="1.25"/>
<line x1="315.2" y1="687.28" x2="318" y2="687.28" stroke="#000" stroke-width="1.25"/>
<line x1="315.2" y1="683.63" x2="318" y2="683.63" stroke="#000" stroke-width="1.25"/>
<line x1="315.2" y1="680.54" x2="318" y2="680.54" stroke="#000" stroke-width="1.25"/>
<line x1="315.2" y1="677.87" x2="318" y2="677.87" stroke="#000" stroke-width="1.25"/>
<line x1="315.2" y1="675.51" x2="318" y2="675.51" stroke="#000" stroke-width="1.25"/>
<line x1="313.8" y1="673.4" x2="318" y2="673.4" stroke="#000" stroke-width="1.25"/>
<text x="309.5" y="677.9" font-size="10.6" text-anchor="end" stroke="#1a1a1a" stroke-width="0.2" fill="#1a1a1a">10</text>
<line x1="315.2" y1="659.49" x2="318" y2="659.49" stroke="#000" stroke-width="1.25"/>
<line x1="315.2" y1="651.36" x2="318" y2="651.36" stroke="#000" stroke-width="1.25"/>
<line x1="315.2" y1="645.58" x2="318" y2="645.58" stroke="#000" stroke-width="1.25"/>
<line x1="315.2" y1="641.11" x2="318" y2="641.11" stroke="#000" stroke-width="1.25"/>
<line x1="315.2" y1="637.45" x2="318" y2="637.45" stroke="#000" stroke-width="1.25"/>
<line x1="315.2" y1="634.36" x2="318" y2="634.36" stroke="#000" stroke-width="1.25"/>
<line x1="315.2" y1="631.68" x2="318" y2="631.68" stroke="#000" stroke-width="1.25"/>
<line x1="315.2" y1="629.31" x2="318" y2="629.31" stroke="#000" stroke-width="1.25"/>
<line x1="313.8" y1="627.2" x2="318" y2="627.2" stroke="#000" stroke-width="1.25"/>
<text x="309.5" y="631.7" font-size="10.6" text-anchor="end" stroke="#1a1a1a" stroke-width="0.2" fill="#1a1a1a">100</text>
<line x1="317.12" y1="765.5" x2="510" y2="765.5" stroke="#000" stroke-width="1.75"/>
<line x1="340.5" y1="765.5" x2="340.5" y2="769.7" stroke="#000" stroke-width="1.25"/>
<line x1="386.75" y1="765.5" x2="386.75" y2="769.7" stroke="#000" stroke-width="1.25"/>
<line x1="433.25" y1="765.5" x2="433.25" y2="769.7" stroke="#000" stroke-width="1.25"/>
<line x1="479.5" y1="765.5" x2="479.5" y2="769.7" stroke="#000" stroke-width="1.25"/>
<text x="340.5" y="782.5" font-size="10.75" text-anchor="middle" stroke="#1a1a1a" stroke-width="0.2" fill="#1a1a1a">Edge</text>
<text x="386.75" y="782.5" font-size="10.75" text-anchor="middle" stroke="#1a1a1a" stroke-width="0.2" fill="#1a1a1a">Front</text>
<text x="433.25" y="782.5" font-size="10.75" text-anchor="middle" stroke="#1a1a1a" stroke-width="0.2" fill="#1a1a1a">Edge</text>
<text x="479.5" y="782.5" font-size="10.75" text-anchor="middle" stroke="#1a1a1a" stroke-width="0.2" fill="#1a1a1a">Front</text>
<text transform="translate(282.1,693.6) rotate(-90)" x="0" y="0" font-size="12.3" text-anchor="middle" stroke="#1a1a1a" stroke-width="0.42" textLength="112.4" lengthAdjust="spacingAndGlyphs" fill="#1a1a1a">Elongational flow (<tspan font-size="15" stroke-width="0" dy="0.9">×</tspan><tspan dy="-0.9">10</tspan><tspan font-size="9.2" dy="-4.6">3</tspan><tspan dy="4.6"> s</tspan><tspan font-size="9.2" dy="-4.6">−1</tspan><tspan dy="4.6">)</tspan></text>
<line x1="325" y1="667.5" x2="355.6" y2="667.5" stroke="#111" stroke-width="1.5"/>
<line x1="340.3" y1="657.8" x2="340.3" y2="686.5" stroke="#111" stroke-width="1.5"/>
<line x1="333" y1="657.8" x2="347.6" y2="657.8" stroke="#111" stroke-width="1.5"/>
<line x1="333" y1="686.5" x2="347.6" y2="686.5" stroke="#111" stroke-width="1.5"/>
<circle cx="340.3" cy="643.7" r="2.9" fill="#c8102e"/>
<circle cx="340.3" cy="665.5" r="2.9" fill="#c8102e"/>
<circle cx="340.3" cy="685.7" r="2.9" fill="#c8102e"/>
<circle cx="345.1" cy="716" r="2.9" fill="#c8102e"/>
<circle cx="335.8" cy="724.5" r="2.9" fill="#c8102e"/>
<line x1="371.4" y1="676.8" x2="402" y2="676.8" stroke="#111" stroke-width="1.5"/>
<line x1="386.7" y1="667.5" x2="386.7" y2="695" stroke="#111" stroke-width="1.5"/>
<line x1="379.45" y1="667.5" x2="393.95" y2="667.5" stroke="#111" stroke-width="1.5"/>
<line x1="379.45" y1="695" x2="393.95" y2="695" stroke="#111" stroke-width="1.5"/>
<rect x="383.8" y="650.9" width="5.8" height="5.8" fill="#17508c"/>
<rect x="383.8" y="670.7" width="5.8" height="5.8" fill="#17508c"/>
<rect x="383.8" y="690.9" width="5.8" height="5.8" fill="#17508c"/>
<rect x="379" y="730.8" width="5.8" height="5.8" fill="#17508c"/>
<rect x="388.7" y="730.8" width="5.8" height="5.8" fill="#17508c"/>
<line x1="418.2" y1="699" x2="449" y2="699" stroke="#111" stroke-width="1.5"/>
<line x1="433.6" y1="693" x2="433.6" y2="708.7" stroke="#111" stroke-width="1.5"/>
<line x1="426.75" y1="693" x2="440.45" y2="693" stroke="#111" stroke-width="1.5"/>
<line x1="426.75" y1="708.7" x2="440.45" y2="708.7" stroke="#111" stroke-width="1.5"/>
<circle cx="432.8" cy="680.4" r="2.9" fill="#e07a8c"/>
<circle cx="438.4" cy="686.5" r="2.9" fill="#e07a8c"/>
<circle cx="429.1" cy="693.8" r="2.9" fill="#e07a8c"/>
<circle cx="429.1" cy="714" r="2.9" fill="#e07a8c"/>
<circle cx="438.4" cy="722" r="2.9" fill="#e07a8c"/>
<circle cx="429.1" cy="736.2" r="2.9" fill="#e07a8c"/>
<circle cx="438.4" cy="733.3" r="2.9" fill="#e07a8c"/>
<line x1="464.75" y1="712" x2="495.05" y2="712" stroke="#111" stroke-width="1.5"/>
<line x1="479.9" y1="704.7" x2="479.9" y2="721.6" stroke="#111" stroke-width="1.5"/>
<line x1="472.2" y1="704.7" x2="487.6" y2="704.7" stroke="#111" stroke-width="1.5"/>
<line x1="472.2" y1="721.6" x2="487.6" y2="721.6" stroke="#111" stroke-width="1.5"/>
<rect x="482" y="687.6" width="5.8" height="5.8" fill="#80a6c9"/>
<rect x="471.9" y="695.3" width="5.8" height="5.8" fill="#80a6c9"/>
<rect x="476.7" y="705" width="5.8" height="5.8" fill="#80a6c9"/>
<rect x="482" y="727.6" width="5.8" height="5.8" fill="#80a6c9"/>
<rect x="471.9" y="732.1" width="5.8" height="5.8" fill="#80a6c9"/>
<rect x="476.7" y="743" width="5.8" height="5.8" fill="#80a6c9"/>
<rect x="476.7" y="755.1" width="5.8" height="5.8" fill="#80a6c9"/>
<circle cx="422" cy="626.3" r="2.9" fill="#c8102e"/>
<text x="428.3" y="630.2" font-size="10.5" text-anchor="middle" stroke="#1a1a1a" stroke-width="0.35" font-weight="bold" fill="#1a1a1a">/</text>
<rect x="432" y="623.5" width="5.6" height="5.6" fill="#17508c"/>
<circle cx="422" cy="639.3" r="2.9" fill="#e07a8c"/>
<text x="428.3" y="643.2" font-size="10.5" text-anchor="middle" stroke="#1a1a1a" stroke-width="0.35" font-weight="bold" fill="#1a1a1a">/</text>
<rect x="432" y="636.5" width="5.6" height="5.6" fill="#80a6c9"/>
<text x="441.8" y="629.8" font-size="9.7" text-anchor="start" stroke="#1a1a1a" stroke-width="0.2" fill="#1a1a1a">Aorta</text>
<text x="441.8" y="642.8" font-size="9.7" text-anchor="start" stroke="#1a1a1a" stroke-width="0.2" textLength="66.6" lengthAdjust="spacingAndGlyphs" fill="#1a1a1a">Saphenous vein</text>
<rect x="1" y="1" width="518" height="812" fill="none" stroke="#000" stroke-width="2"/>
</svg>
</body></html>
